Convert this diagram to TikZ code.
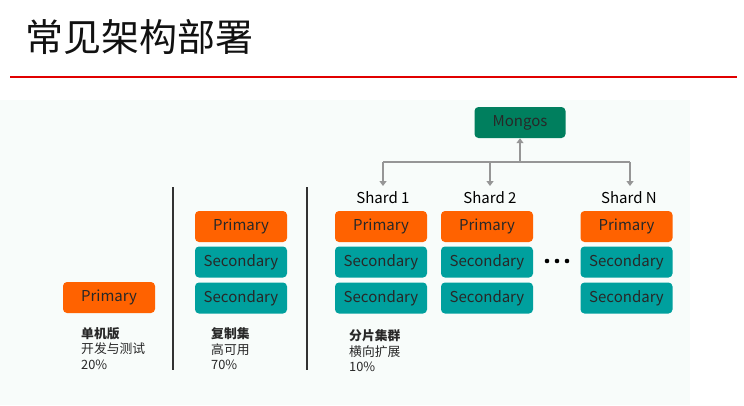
\documentclass[tikz,border=0pt]{standalone}
\usepackage{fontspec}
\setmainfont{Noto Sans CJK SC}
\usetikzlibrary{arrows.meta}
\definecolor{orangeP}{RGB}{255,98,0}
\definecolor{tealS}{RGB}{0,160,158}
\definecolor{greenM}{RGB}{0,127,94}
\definecolor{panel}{RGB}{248,252,250}
\definecolor{arrgray}{RGB}{150,150,150}
\definecolor{txtdark}{RGB}{40,40,40}
\definecolor{redline}{RGB}{225,0,0}
\tikzset{
  box/.style={rounded corners=4pt, minimum width=92pt, minimum height=31pt, inner sep=0pt,
    font=\fontsize{15}{17}\selectfont, text=txtdark},
  prim/.style={box, fill=orangeP},
  seco/.style={box, fill=tealS},
  mongo/.style={box, fill=greenM, minimum width=91pt},
  shardlbl/.style={font=\fontsize{15}{17}\selectfont, text=black, inner sep=1pt},
  conn/.style={draw=arrgray, line width=1.8pt},
  arr/.style={conn, -{Triangle[width=7pt,length=5pt]}},
  sep/.style={draw={rgb,255:red,50;green,50;blue,50}, line width=1.8pt},
  desc/.style={font=\fontsize{12.8}{15.3}\selectfont, align=left, anchor=north west, inner sep=0pt, text=txtdark},
}
\begin{document}
\begin{tikzpicture}[x=1pt,y=-1pt]
\useasboundingbox (0,0) rectangle (744,405);
\fill[white] (0,0) rectangle (744,405);
\fill[panel] (0,100) rectangle (690,405);
% title
\node[anchor=west, font=\fontsize{38}{40}\selectfont, text={rgb,255:red,17;green,17;blue,17}, inner sep=0pt] (title) at (25,37) {常见架构部署};
\coordinate (rl) at (10,77);
\coordinate (rr) at (737,77);
\draw[redline, line width=2pt] (rl) -- (rr);
% separators
\coordinate (s1t) at (173,187); \coordinate (s1b) at (173,370);
\coordinate (s2t) at (307,187); \coordinate (s2b) at (307,370);
\draw[sep] (s1t) -- (s1b);
\draw[sep] (s2t) -- (s2b);
% single
\node[prim] (single) at (109,297.5) {Primary};
\node[desc] (d1) at (81,327.5) {\textbf{单机版}\\开发与测试\\20\%};
% replica set
\node[prim] (rp) at (241,226.5) {Primary};
\node[seco] (rs1) at (241,262) {Secondary};
\node[seco] (rs2) at (241,298) {Secondary};
\node[desc] (d2) at (211,327.5) {\textbf{复制集}\\高可用\\70\%};
% shards
\node[prim] (ap) at (381,226.5) {Primary};
\node[seco] (as1) at (381,262) {Secondary};
\node[seco] (as2) at (381,298) {Secondary};
\node[prim] (bp) at (487,226.5) {Primary};
\node[seco] (bs1) at (487,262) {Secondary};
\node[seco] (bs2) at (487,298) {Secondary};
\node[prim] (np) at (626.5,226.5) {Primary};
\node[seco] (ns1) at (626.5,262) {Secondary};
\node[seco] (ns2) at (626.5,298) {Secondary};
\node[desc] (d3) at (349,329.5) {\textbf{分片集群}\\横向扩展\\10\%};
% dots
\fill[black] (547,261) circle (2.3) (557,261) circle (2.3) (567,261) circle (2.3);
% shard labels
\node[shardlbl] (l1) at (383,198) {Shard 1};
\node[shardlbl] (l2) at (490,198) {Shard 2};
\node[shardlbl] (ln) at (629,198) {Shard N};
% mongos
\node[mongo] (mongos) at (520,122.5) {Mongos};
\coordinate (jm) at (520,162);
\coordinate (j1) at (383,162);
\coordinate (j2) at (490,162);
\coordinate (jn) at (630,162);
\coordinate (t1) at (383,186);
\coordinate (t2) at (490,186);
\coordinate (tn) at (630,186);
\draw[conn] (j1) -- (jn);
\draw[arr] (jm) -- (mongos.south);
\draw[arr] (j1) -- (t1);
\draw[arr] (j2) -- (t2);
\draw[arr] (jn) -- (tn);
\end{tikzpicture}
\end{document}
